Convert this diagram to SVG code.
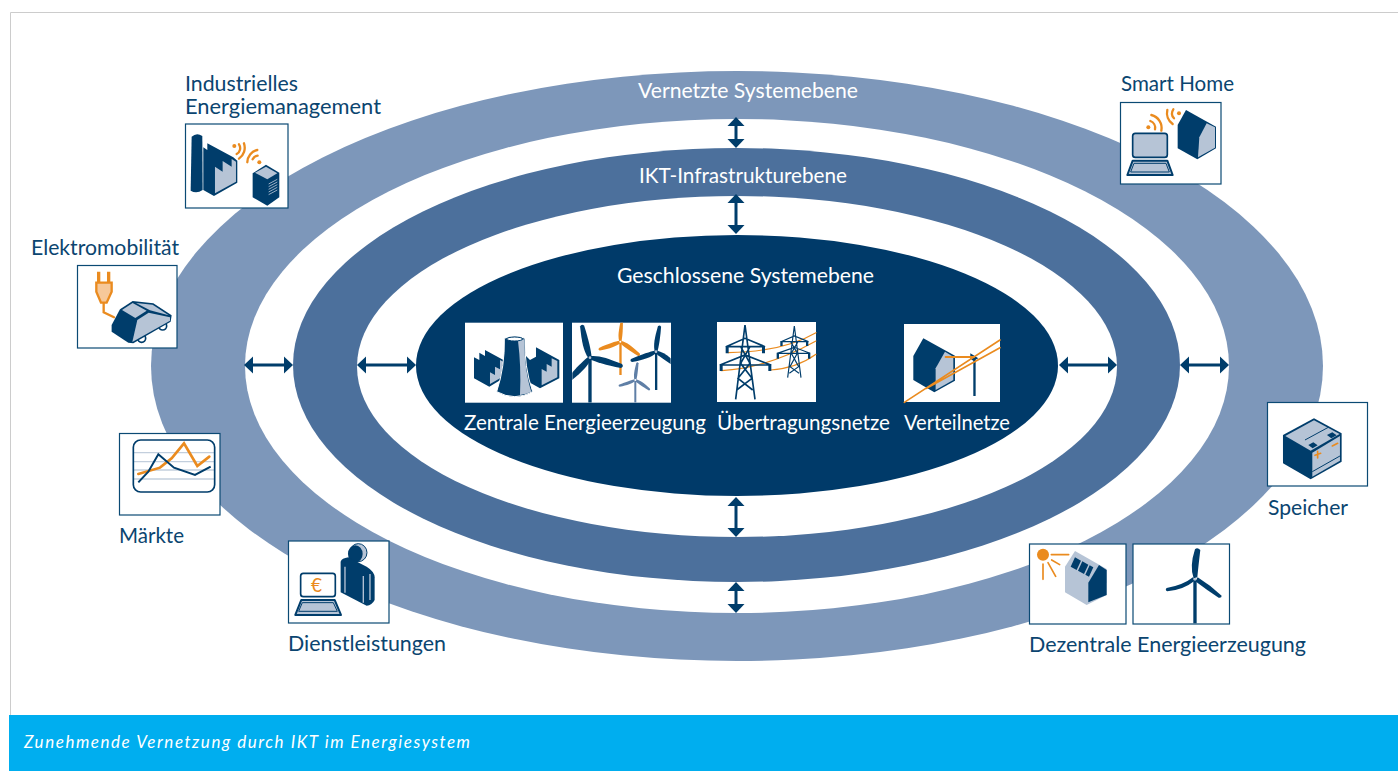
<svg xmlns="http://www.w3.org/2000/svg" width="1398" height="771" viewBox="0 0 1398 771">
<style>
text{font-family:Lato,"Open Sans","Liberation Sans",sans-serif;font-size:20.500px}
.lbl{fill:#0b4570}
.wt{fill:#fff}
.box{fill:#fff;stroke:#0b4a74;stroke-width:1.2}
.wbox{fill:#fff}
.d{fill:#003d6b}
.l{fill:#b6c4d6}
.o{fill:none;stroke:#ea8b1f;stroke-linecap:round}
.ln{fill:none;stroke:#003d6b}
.arrow{stroke:#003d6b;stroke-width:3;fill:none;marker-start:url(#ah);marker-end:url(#ah)}
</style>
<defs>
<marker id="ah" markerUnits="userSpaceOnUse" markerWidth="10" markerHeight="18" viewBox="0 0 9 18" refX="6" refY="9" orient="auto-start-reverse"><path d="M0 .5L9 9L0 17.500Z" fill="#003d6b"/></marker>
<path id="blade" d="M-5 0C-14 -25 -12 -50 -6 -95Q0 -103 6 -95C9 -50 8 -20 5 0Z"/>
<clipPath id="cw"><rect x="367" y="38" width="295" height="240"/></clipPath>
</defs>
<rect width="1398" height="771" fill="#fff"/>
<path d="M10.500 715V12.500H1398" fill="none" stroke="#cccccc" stroke-width="1"/>
<g id="rings">
<ellipse cx="737" cy="366" rx="586" ry="295" fill="#7d97ba"/>
<ellipse cx="737" cy="366" rx="492" ry="247" fill="#fff"/>
<ellipse cx="736.500" cy="365" rx="443.500" ry="217" fill="#4c709c"/>
<ellipse cx="737" cy="366.500" rx="380" ry="170.500" fill="#fff"/>
<ellipse cx="737" cy="365.500" rx="321" ry="130.500" fill="#003a69"/>
</g>
<g id="connectors">
<line class="arrow" x1="736" y1="120" x2="736" y2="145"/>
<line class="arrow" x1="736" y1="197" x2="736" y2="231"/>
<line class="arrow" x1="736" y1="500" x2="736" y2="534"/>
<line class="arrow" x1="736" y1="585" x2="736" y2="610"/>
<line class="arrow" x1="247" y1="365" x2="290" y2="365"/>
<line class="arrow" x1="360" y1="365" x2="413" y2="365"/>
<line class="arrow" x1="1062" y1="365" x2="1114" y2="365"/>
<line class="arrow" x1="1183" y1="365" x2="1226" y2="365"/>
</g>
<g id="ring-labels">
<text class="wt" x="638" y="98" textLength="220" lengthAdjust="spacingAndGlyphs">Vernetzte Systemebene</text>
<text class="wt" x="639" y="183" textLength="208" lengthAdjust="spacingAndGlyphs">IKT-Infrastrukturebene</text>
<text class="wt" x="617" y="283" textLength="257" lengthAdjust="spacingAndGlyphs">Geschlossene Systemebene</text>
</g>

<g id="zentrale-energieerzeugung">
<rect class="wbox" x="465" y="322.700" width="98" height="80"/>
<rect class="wbox" x="572" y="322.700" width="99" height="80"/>
<g transform="translate(450 310) scale(.3333)">
<path class="d" d="M72 142L88 150V128L105 138V120L170 155L160 205L118 230L72 205Z"/>
<path class="l" d="M120 222L150 205L160 155L150 150V178L135 170V195L120 187Z"/>
<path class="d" d="M225 135L240 150L258 140V112L328 150V205L270 235L235 215Z"/>
<path class="l" d="M275 226L322 202V153L305 145V170L290 162V185L275 177Z"/>
<path class="d" d="M163 85Q165 170 140 245Q195 275 248 245Q222 170 225 85Q195 72 163 85Z" stroke="#fff" stroke-width="3"/>
<path class="l" d="M204 92L222 88Q225 190 244 245Q230 252 210 255Q214 170 204 92Z"/>
<ellipse cx="194" cy="87" rx="24" ry="6" fill="#fff" stroke="#003d6b" stroke-width="3"/>
<g clip-path="url(#cw)">
<rect x="508" y="95" width="7" height="100" fill="#ea8b1f"/>
<g fill="#ea8b1f" transform="translate(511 95)"><use href="#blade" transform="rotate(4) scale(.62)"/><use href="#blade" transform="rotate(-110) scale(.7)"/><use href="#blade" transform="rotate(125) scale(.72)"/><circle r="3" fill="#fff"/></g>
<rect x="553" y="210" width="6" height="68" fill="#5f7fa6"/>
<g fill="#5f7fa6" transform="translate(556 210)"><use href="#blade" transform="rotate(7) scale(.54)"/><use href="#blade" transform="rotate(-110) scale(.54)"/><use href="#blade" transform="rotate(124) scale(.54)"/><circle r="3" fill="#fff"/></g>
<rect x="415" y="143" width="10" height="135" class="d"/>
<g class="d" transform="translate(420 143)"><use href="#blade" transform="rotate(-14) scale(1.03)"/><use href="#blade" transform="rotate(105) scale(1.03)"/><use href="#blade" transform="rotate(-136) scale(1.03)"/><circle r="4" fill="#b6c4d6"/></g>
<rect x="615" y="125" width="7" height="115" class="d"/>
<g class="d" transform="translate(618 125)"><use href="#blade" transform="rotate(8) scale(.8)"/><use href="#blade" transform="rotate(-110) scale(.82)"/><use href="#blade" transform="rotate(124) scale(.82)"/><circle r="4" fill="#b6c4d6"/></g>
</g>
</g>
<text class="wt" x="464" y="430" textLength="242" lengthAdjust="spacingAndGlyphs">Zentrale Energieerzeugung</text>
</g>

<g id="uebertragungsnetze">
<rect class="wbox" x="717" y="322" width="99" height="80"/>
<g transform="translate(700 310) scale(.3333)">
<path class="o" stroke-width="3.500" d="M85 128Q250 125 348 68M65 182Q200 175 348 93M212 180Q290 175 348 133"/>
<path class="ln" stroke-width="5" d="M135 45L107 268M135 45L165 268M78 110L135 85L195 110ZM60 165L135 135L213 165ZM122 110L150 160L114 205L158 240M150 110L122 160L156 205L110 240"/>
<path class="d" d="M77 108h9v22h-9zM186 108h9v22h-9zM59 163h9v20h-9zM205 163h9v20h-9z"/>
<path class="ln" stroke-width="3.500" d="M283 48L263 203M283 48L303 203M243 95L283 78L325 95ZM232 130L283 112L330 130ZM272 95L292 130L270 170L297 190M294 95L274 130L296 170L268 190"/>
<path class="d" d="M241 93h7v15h-7zM318 93h7v15h-7zM230 128h7v18h-7zM324 128h7v18h-7z"/>
</g>
<text class="wt" x="717" y="430" textLength="173" lengthAdjust="spacingAndGlyphs">Übertragungsnetze</text>
</g>

<g id="verteilnetze">
<rect class="wbox" x="904" y="324" width="96" height="78"/>
<g transform="translate(700 310) scale(.3333)">
<path class="d" d="M670 85L765 137V212L703 247L640 210V138Z"/>
<path class="l" d="M735 125L760 140V210L707 240V175Z"/>
<rect x="820" y="145" width="7" height="113" class="d"/>
<path class="d" d="M811 130L835 145L820 152L811 146Z"/>
<path class="o" stroke-width="5" d="M613 277L900 90M680 235L900 113"/>
<path class="o" stroke-width="6" d="M737 141H822"/>
</g>
<text class="wt" x="904" y="430" textLength="106" lengthAdjust="spacingAndGlyphs">Verteilnetze</text>
</g>

<g id="industrielles-energiemanagement">
<text class="lbl" x="185" y="90.500" textLength="113" lengthAdjust="spacingAndGlyphs">Industrielles</text>
<text class="lbl" x="185" y="114" textLength="196" lengthAdjust="spacingAndGlyphs">Energiemanagement</text>
<rect class="box" x="185.500" y="124" width="102.500" height="84"/>
<g transform="translate(0 60) scale(.3333)">
<path class="d" d="M575 230Q590 216 607 228L608 390Q590 402 572 392Z"/>
<path class="d" d="M610 262L622 270V250L700 292L712 302V368L642 408L610 390Z"/>
<path class="l" d="M645 400L708 365V305L695 297V320L668 303V335L645 320Z"/>
<path class="d" d="M798 314L838 338V412L802 437L758 412V340Z"/>
<path class="l" d="M798 320L832 340L802 358L765 338Z"/>
<path d="M806 372L832 358M806 380L832 366M806 388L832 374M806 396L832 382M806 404L832 390" stroke="#b6c4d6" stroke-width="2.500"/>
<circle cx="703" cy="258" r="6" fill="#ea8b1f"/><circle cx="778" cy="307" r="6" fill="#ea8b1f"/>
<path class="o" stroke-width="7" d="M717 253A20 20 0 0 1 710 282M732 250A40 40 0 0 1 717 296M758 298A20 20 0 0 1 773 287M742 307A38 38 0 0 1 772 270"/>
</g>
</g>

<g id="elektromobilitaet">
<text class="lbl" x="31" y="255" textLength="148" lengthAdjust="spacingAndGlyphs">Elektromobilität</text>
<rect class="box" x="77.500" y="265.500" width="99.500" height="82.500"/>
<g transform="translate(0 60) scale(.3333)">
<path d="M296 635V668M326 635V668" stroke="#ea8b1f" stroke-width="10" fill="none"/>
<path d="M289 668H335V695L320 728H303L289 695Z" fill="#f6c89a" stroke="#ea8b1f" stroke-width="7"/>
<path class="o" stroke-width="7" d="M311 730V757L342 772"/>
<circle cx="425" cy="835" r="12" fill="#fff" stroke="#003d6b" stroke-width="5"/>
<circle cx="488" cy="798" r="12" fill="#fff" stroke="#003d6b" stroke-width="5"/>
<path class="d" d="M398 723L460 730L515 766L512 785L400 850L385 848L335 815V795L360 748Z"/>
<path class="l" d="M366 750L398 729L440 752L406 774Z"/>
<path class="l" d="M408 729L458 734L506 766L450 751Z"/>
<path class="l" d="M412 780L446 758L510 772V782L397 846Z"/>
</g>
</g>

<g id="maerkte">
<rect class="box" x="119.500" y="433.500" width="100.500" height="81.500"/>
<g transform="translate(100 420) scale(.3333)">
<path d="M102 98H342M102 125H342M102 150H342M102 177H342" stroke="#c3cfdd" stroke-width="4"/>
<rect x="100" y="60" width="244" height="156" rx="22" fill="none" stroke="#003d6b" stroke-width="5"/>
<path class="o" stroke-width="8" d="M115 162L180 143L215 115L252 70L292 138L328 110"/>
<path class="ln" stroke-width="6" d="M115 187L145 155L175 103L222 143L285 165L332 140"/>
</g>
<text class="lbl" x="119" y="543" textLength="65" lengthAdjust="spacingAndGlyphs">Märkte</text>
</g>

<g id="dienstleistungen">
<rect class="box" x="288.500" y="541" width="100.500" height="82"/>
<g transform="translate(100 420) scale(.3333)">
<ellipse cx="775" cy="398" rx="26" ry="27" class="l" stroke="#003d6b" stroke-width="3"/>
<ellipse cx="766" cy="402" rx="22" ry="26" class="d"/>
<path class="d" d="M722 425Q725 415 745 412L800 440Q824 455 824 472V540Q816 556 800 557L722 517Z"/>
<path d="M735 440V518M790 468V548M810 462V540" stroke="#b6c4d6" stroke-width="4" fill="none"/>
<rect x="602" y="460" width="104" height="70" rx="8" fill="#fff" stroke="#003d6b" stroke-width="5"/>
<path class="l" stroke="#003d6b" stroke-width="6" stroke-linejoin="round" d="M604 540H704L723 585H586Z"/>
<path d="M607 548H700L712 574H596Z" fill="none" stroke="#003d6b" stroke-width="3"/>
</g>
<text x="311" y="592" style="font-size:19px;fill:#ea8b1f">€</text>
<text class="lbl" x="288" y="651" textLength="158" lengthAdjust="spacingAndGlyphs">Dienstleistungen</text>
</g>

<g id="speicher">
<rect class="box" x="1267.500" y="402.500" width="100" height="83.500"/>
<g transform="translate(1020 390) scale(.3333)">
<path class="d" d="M882 85L965 130V215L872 268L789 220V135Z"/>
<path class="l" d="M882 91L959 132L872 182L796 138Z"/>
<path class="l" d="M877 188L960 138V212L877 260Z"/>
<path d="M877 245L960 198" stroke="#003d6b" stroke-width="3"/>
<path class="ln" stroke-width="3" d="M855 150L925 112"/>
<path class="d" d="M865 165L880 157L893 166L878 175ZM921 135L937 127L950 136L934 145Z"/>
<path class="o" stroke-width="5" d="M885 196L902 190M893 184V204M937 168L953 160"/>
</g>
<text class="lbl" x="1268" y="515" textLength="80" lengthAdjust="spacingAndGlyphs">Speicher</text>
</g>

<g id="dezentrale-energieerzeugung">
<rect class="box" x="1029.500" y="544" width="96.500" height="80"/>
<rect class="box" x="1133" y="544" width="96.500" height="80"/>
<g transform="translate(1020 390) scale(.3333)">
<circle cx="69" cy="494" r="18" fill="#ea8b1f"/>
<path class="o" stroke-width="5" d="M94 494H146M95 510L119 524M84 518L107 559M69 522V568"/>
<path class="l" d="M165 483L260 537V615L200 645L135 607V530Z"/>
<path class="d" d="M237 525L260 540V615L205 637V578Z"/>
<path class="d" d="M165 502L183 512L170 540L152 530ZM187 514L205 524L192 552L174 542ZM209 526L220 532L207 560L196 554Z"/>
<rect x="520" y="570" width="10" height="130" class="d"/>
<path class="d" d="M521 565Q508 530 525 478Q532 470 541 480Q535 530 532 562Z"/>
<path class="d" d="M520 561Q490 585 440 594Q434 600 442 604Q490 600 522 574Z"/>
<path class="d" d="M533 562Q570 585 605 617Q605 625 596 623Q560 600 526 574Z"/>
<circle cx="525" cy="568" r="4" fill="#b6c4d6"/>
</g>
<text class="lbl" x="1029" y="652" textLength="277" lengthAdjust="spacingAndGlyphs">Dezentrale Energieerzeugung</text>
</g>

<g id="smart-home">
<text class="lbl" x="1121" y="91" textLength="113" lengthAdjust="spacingAndGlyphs">Smart Home</text>
<rect class="box" x="1120.500" y="102.500" width="100.500" height="81.500"/>
<g transform="translate(1110 70) scale(.3333)">
<rect x="68" y="190" width="104" height="72" rx="8" class="l" stroke="#003d6b" stroke-width="5"/>
<path class="l" stroke="#003d6b" stroke-width="6" stroke-linejoin="round" d="M68 272H172L188 315H52Z"/>
<path d="M72 280H168L178 306H62Z" fill="none" stroke="#003d6b" stroke-width="3"/>
<path class="d" d="M228 120L318 170V235L262 268L203 235V165Z"/>
<path class="l" d="M268 202L290 160L315 172V233L264 262Z"/>
<circle cx="115" cy="172" r="6" fill="#ea8b1f"/><circle cx="207" cy="130" r="6" fill="#ea8b1f"/>
<path class="o" stroke-width="7" d="M121 153A22 22 0 0 1 135 178M124 135A40 40 0 0 1 154 182M190 118A22 22 0 0 0 192 145M172 120A40 40 0 0 0 188 162"/>
</g>
</g>

<g id="footer">
<rect x="9" y="715" width="1389" height="56" fill="#00aeef"/>
<text x="24" y="748" fill="#fff" font-style="italic" style="font-size:17px" textLength="446" lengthAdjust="spacing">Zunehmende Vernetzung durch IKT im Energiesystem</text>
</g>
</svg>
